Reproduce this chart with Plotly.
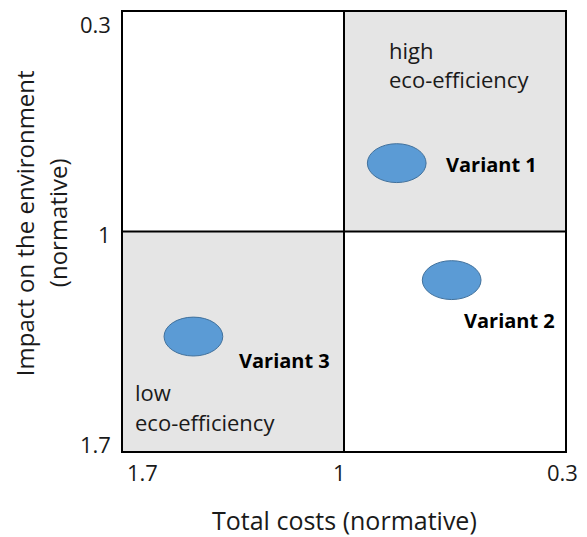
import plotly.graph_objects as go

# Data
variants = ["Variant 1", "Variant 2", "Variant 3"]
cost = [0.833, 0.659, 1.477]
impact = [0.782, 1.155, 1.335]
label_x = [0.683, 0.325, 1.339]
label_y = [0.786, 1.284, 1.411]
label_anchor = ["left", "right", "left"]
tick_vals = [1.7, 1.0, 0.3]
tick_text = ["1.7", "1", "0.3"]
quad_labels = ["high", "eco-efficiency", "low", "eco-efficiency"]
quad_x = [0.864, 0.864, 1.668, 1.668]
quad_y = [0.421, 0.513, 1.511, 1.607]

AX_MIN, AX_MAX = 0.3, 1.7

# Styling offsets (pixels) for tick labels
xtick_shift = [19, -5, -3]
ytick_shift = [7, -2, -12]

FONT = "Open Sans"
TXT = "#1a1a1a"
ell_w = 0.186  # data units
ell_h = 0.124

fig = go.Figure()
fig.add_trace(go.Scatter(x=cost, y=impact, mode="markers",
                         marker=dict(size=1, opacity=0), hoverinfo="skip", showlegend=False))

shapes = [
    dict(type="rect", xref="x", yref="y", x0=1.0, x1=0.3, y0=0.3, y1=1.0,
         fillcolor="#E5E5E5", line=dict(width=0), layer="below"),
    dict(type="rect", xref="x", yref="y", x0=1.7, x1=1.0, y0=1.0, y1=1.7,
         fillcolor="#E5E5E5", line=dict(width=0), layer="below"),
    dict(type="line", xref="x", yref="y", x0=1.0, x1=1.0, y0=0.3, y1=1.7,
         line=dict(color="black", width=2)),
    dict(type="line", xref="x", yref="y", x0=1.7, x1=0.3, y0=1.0, y1=1.0,
         line=dict(color="black", width=2)),
]
for cx, cy in zip(cost, impact):
    shapes.append(dict(type="circle", xref="x", yref="y",
                       x0=cx + ell_w / 2, x1=cx - ell_w / 2,
                       y0=cy - ell_h / 2, y1=cy + ell_h / 2,
                       fillcolor="#5B9BD5", line=dict(color="#41719C", width=1)))

annotations = []
for name, lx, ly, anc in zip(variants, label_x, label_y, label_anchor):
    annotations.append(dict(x=lx, y=ly, xref="x", yref="y", text="<b>" + name + "</b>",
                            showarrow=False, xanchor=anc, yanchor="middle",
                            font=dict(family=FONT, size=20, color="black")))

for t, qx, qy in zip(quad_labels, quad_x, quad_y):
    annotations.append(dict(x=qx, y=qy, xref="x", yref="y", text=t, showarrow=False,
                            xanchor="left", yanchor="middle",
                            font=dict(family=FONT, size=22, color=TXT)))

# tick labels
for v, t, s in zip(tick_vals, tick_text, xtick_shift):
    annotations.append(dict(x=v, y=0, xref="x", yref="paper", text=t, showarrow=False,
                            xanchor="center", yanchor="middle", xshift=s, yshift=-21,
                            font=dict(family=FONT, size=22, color=TXT)))
for v, t, s in zip(tick_vals, tick_text, ytick_shift):
    yp = (AX_MAX - v) / (AX_MAX - AX_MIN)  # reversed y axis -> paper fraction
    annotations.append(dict(x=0, y=yp, xref="paper", yref="paper", text=t, showarrow=False,
                            xanchor="right", yanchor="middle", xshift=-10, yshift=s,
                            font=dict(family=FONT, size=22, color=TXT)))

# axis titles
annotations.append(dict(x=0.5, y=0, xref="paper", yref="paper", text="Total costs (normative)",
                        showarrow=False, xanchor="center", yanchor="middle", yshift=-69,
                        font=dict(family=FONT, size=25, color=TXT)))
annotations.append(dict(x=0, y=0.519, xref="paper", yref="paper", text="Impact on the environment",
                        textangle=-90, showarrow=False, xanchor="center", yanchor="middle",
                        xshift=-99, font=dict(family=FONT, size=24, color=TXT)))
annotations.append(dict(x=0, y=0.519, xref="paper", yref="paper", text="(normative)",
                        textangle=-90, showarrow=False, xanchor="center", yanchor="middle",
                        xshift=-66, font=dict(family=FONT, size=24, color=TXT)))

fig.update_layout(
    width=587, height=537,
    margin=dict(l=115, r=30, t=2, b=94),
    plot_bgcolor="white", paper_bgcolor="white",
    shapes=shapes, annotations=annotations,
    font=dict(family=FONT, size=20, color=TXT),
    xaxis=dict(range=[1.7, 0.3], showticklabels=False,
               showgrid=False, zeroline=False, showline=True, mirror=True,
               linecolor="black", linewidth=2, ticks=""),
    yaxis=dict(range=[1.7, 0.3], showticklabels=False,
               showgrid=False, zeroline=False, showline=True, mirror=True,
               linecolor="black", linewidth=2, ticks=""),
)

fig.write_html("out.html")
